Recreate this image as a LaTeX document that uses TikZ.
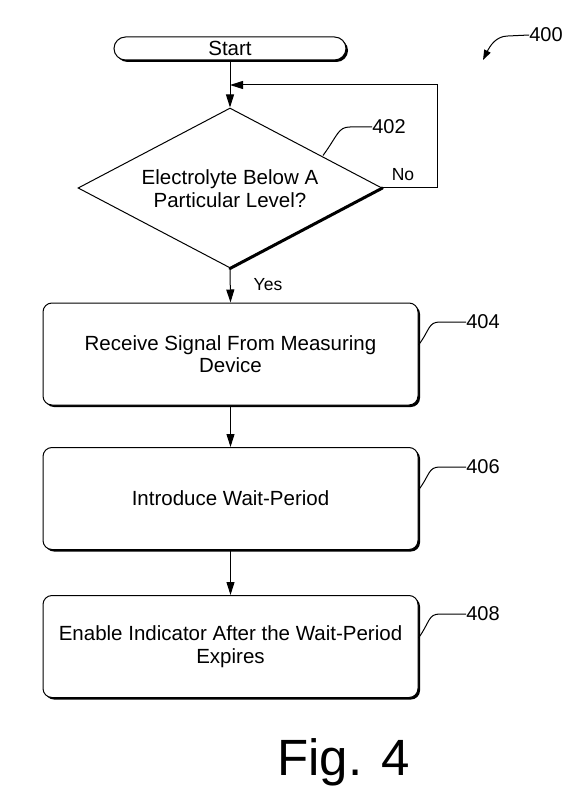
\documentclass[tikz,border=0pt]{standalone}
\usepackage{fontspec}
\setmainfont{Liberation Sans}
\usetikzlibrary{shapes.geometric,arrows.meta,shadows}
\begin{document}
\begin{tikzpicture}[x=1pt,y=-1pt,
  arr/.style={-{Triangle[length=13pt,width=8pt]},line width=1pt},
  lead/.style={line width=1pt},
  boxshadow/.style={drop shadow={shadow xshift=2pt,shadow yshift=-2pt,fill=black,opacity=1}},
  stepbox/.style={draw,line width=1pt,fill=white,rounded corners=9pt,minimum width=375pt,minimum height=102pt,align=center,font=\fontsize{20.5}{22.5}\selectfont,inner sep=0pt,boxshadow},
  term/.style={draw,line width=1pt,fill=white,rounded corners=11.5pt,minimum width=232pt,minimum height=23pt,font=\fontsize{20.5}{22}\selectfont,inner sep=0pt,boxshadow},
  dec/.style={draw,line width=1pt,diamond,minimum width=304pt,minimum height=160pt,inner sep=0pt},
  dectext/.style={align=center,font=\fontsize{20.5}{23}\selectfont,inner sep=0pt},
  num/.style={font=\fontsize{20}{22}\selectfont,inner sep=0pt},
  lab/.style={font=\fontsize{17.5}{19}\selectfont,inner sep=0pt}]
\useasboundingbox (0,0) rectangle (569,791);
\node[term] (start) at (230,48.5) {Start};
\node[dec] (dia) at (230,188) {};
\node[dectext] (diatext) at (230,189) {Electrolyte Below A\\Particular Level?};
\draw[line width=3pt,line cap=round] (dia.east) -- (dia.south);
\node[stepbox] (b1) at (230.5,354) {Receive Signal From Measuring\\Device};
\node[stepbox] (b2) at (230.5,498.5) {Introduce Wait-Period};
\node[stepbox] (b3) at (230.5,646.5) {Enable Indicator After the Wait-Period\\Expires};
\coordinate (join) at (230,85);
\draw[arr] (start) -- (dia.north);
\draw[arr] (dia.east) -- ++(55,0) |- (join);
\draw[arr] (dia.south) -- (b1.north);
\draw[arr] (b1) -- (b2);
\draw[arr] (b2) -- (b3);
\node[lab] (no) at (403,175) {No};
\node[lab] (yes) at (268,285) {Yes};
\node[num] (n402) at (389,127) {402};
\coordinate (l402) at (323,155.5);
\draw[lead] (l402) .. controls (338,135) and (338,127) .. (350,127) -- (n402.west);
\node[num] (n404) at (483,322) {404};
\draw[lead] (b1.east |- 0,345) .. controls (430,330) and (428,322) .. (440,322) -- (n404.west);
\node[num] (n406) at (483,467) {406};
\draw[lead] (b2.east |- 0,490) .. controls (430,475) and (428,467) .. (440,467) -- (n406.west);
\node[num] (n408) at (483,614) {408};
\draw[lead] (b3.east |- 0,638) .. controls (430,622) and (428,614) .. (440,614) -- (n408.west);
\node[num] (n400) at (546,35) {400};
\coordinate (a400) at (483,60);
\draw[lead,-{Triangle[length=10pt,width=7pt]}] (n400.west) -- (508,36) .. controls (496,36) and (490,46) .. (a400);
\node[font=\fontsize{51}{54}\selectfont,inner sep=0pt] (fig) at (343.5,762) {Fig. 4};
\end{tikzpicture}
\end{document}
